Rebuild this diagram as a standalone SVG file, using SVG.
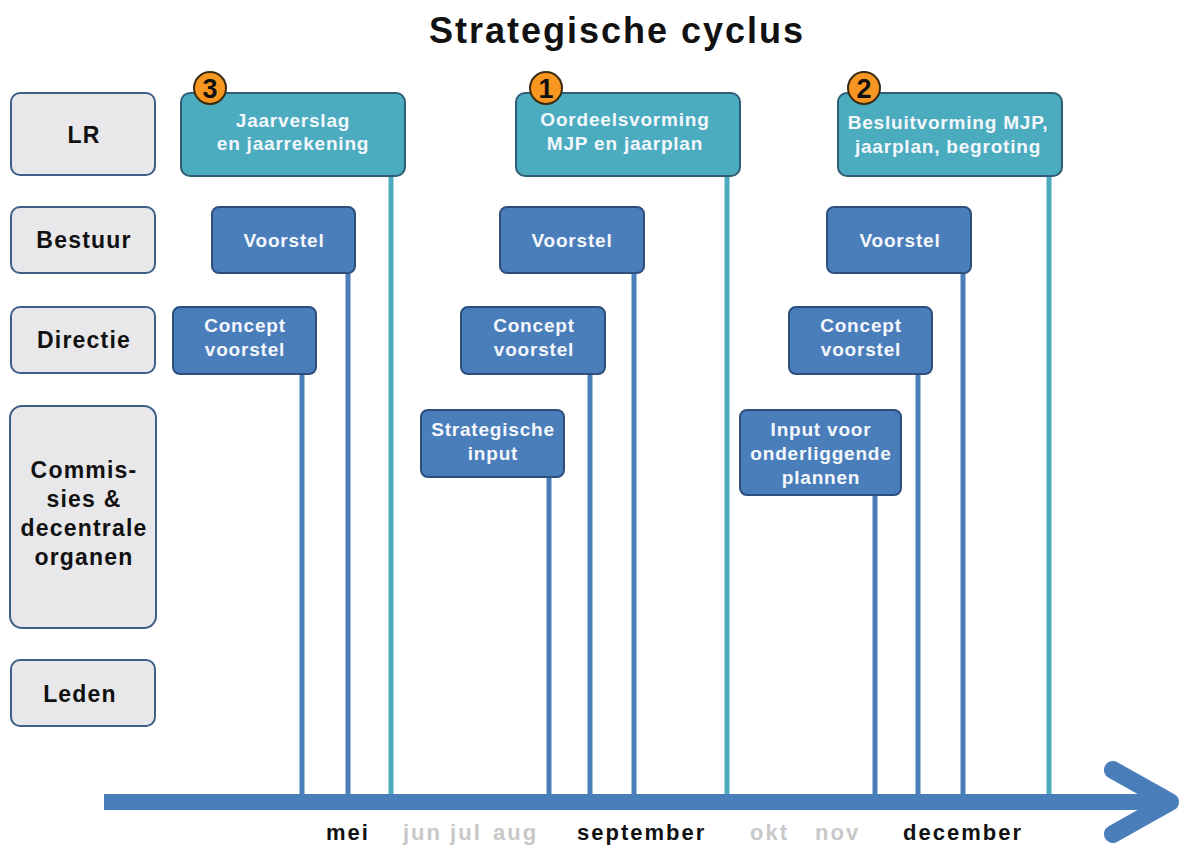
<svg xmlns="http://www.w3.org/2000/svg" width="1182" height="845" viewBox="0 0 1182 845">
<style>
.lane{fill:#e8e7ea;stroke:#3f5f87;stroke-width:2}
.lt{font-family:"Liberation Sans",Arial,sans-serif;font-weight:bold;font-size:23px;fill:#111;text-anchor:middle;letter-spacing:1.2px}
.lr{fill:#4bacc0;stroke:#2e5d74;stroke-width:2}
.bl{fill:#4a7ebb;stroke:#2c4f7c;stroke-width:2}
.wt{font-family:"Liberation Sans",Arial,sans-serif;font-weight:bold;font-size:19px;fill:#f4f7fb;text-anchor:middle;letter-spacing:0.8px}
.num{fill:#f79621;stroke:#3a2a10;stroke-width:2}
.nt{font-family:"Liberation Sans",Arial,sans-serif;font-weight:bold;font-size:27px;fill:#111;text-anchor:middle}
.vb{stroke:#4a7ebb;stroke-width:5}
.vt{stroke:#4bacc0;stroke-width:5}
.mb{font-family:"Liberation Sans",Arial,sans-serif;font-weight:bold;font-size:22px;fill:#111;letter-spacing:2px}
.mg{font-family:"Liberation Sans",Arial,sans-serif;font-weight:bold;font-size:22px;fill:#c8c8c8;letter-spacing:2px}
</style>
<rect width="1182" height="845" fill="#ffffff"/>
<text x="617" y="43" font-family="Liberation Sans, Arial, sans-serif" font-weight="bold" font-size="36" letter-spacing="2" fill="#111" text-anchor="middle">Strategische cyclus</text>

<g id="lane-LR"><rect class="lane" x="11" y="93" width="144" height="82" rx="9"/><text class="lt" x="84" y="143">LR</text></g>
<g id="lane-Bestuur"><rect class="lane" x="11" y="207" width="144" height="66" rx="9"/><text class="lt" x="84" y="248">Bestuur</text></g>
<g id="lane-Directie"><rect class="lane" x="11" y="307" width="144" height="66" rx="9"/><text class="lt" x="84" y="348">Directie</text></g>
<g id="lane-Commissies"><rect class="lane" x="10" y="406" width="146" height="222" rx="12"/>
<text class="lt" x="84" y="478">Commis-</text><text class="lt" x="84" y="507">sies &amp;</text><text class="lt" x="84" y="536">decentrale</text><text class="lt" x="84" y="565">organen</text></g>
<g id="lane-Leden"><rect class="lane" x="11" y="660" width="144" height="66" rx="9"/><text class="lt" x="80" y="702">Leden</text></g>

<g id="connectors">
<line class="vb" x1="302" y1="373" x2="302" y2="796"/>
<line class="vb" x1="348" y1="273" x2="348" y2="796"/>
<line class="vt" x1="391" y1="176" x2="391" y2="796"/>
<line class="vb" x1="549" y1="477" x2="549" y2="796"/>
<line class="vb" x1="590" y1="373" x2="590" y2="796"/>
<line class="vb" x1="634" y1="273" x2="634" y2="796"/>
<line class="vt" x1="727" y1="176" x2="727" y2="796"/>
<line class="vb" x1="875" y1="495" x2="875" y2="796"/>
<line class="vb" x1="918" y1="373" x2="918" y2="796"/>
<line class="vb" x1="963" y1="273" x2="963" y2="796"/>
<line class="vt" x1="1049" y1="176" x2="1049" y2="796"/>
<g id="timeline" stroke="#4a7ebb" fill="none" stroke-linecap="round" stroke-linejoin="round">
<line x1="104" y1="802" x2="1165" y2="802" stroke-width="16" stroke-linecap="butt"/>
<polyline points="1113,770 1170,802 1113,834" stroke-width="18"/>
</g>
</g>

<g id="lr3"><rect class="lr" x="181" y="93" width="224" height="83" rx="9"/><text class="wt" x="293" y="127">Jaarverslag</text><text class="wt" x="293" y="150">en jaarrekening</text>
<circle class="num" cx="210" cy="88" r="16"/><text class="nt" x="210" y="98">3</text></g>
<g id="lr1"><rect class="lr" x="516" y="93" width="224" height="83" rx="9"/><text class="wt" x="625" y="126">Oordeelsvorming</text><text class="wt" x="625" y="150">MJP en jaarplan</text>
<circle class="num" cx="546" cy="88" r="16"/><text class="nt" x="546" y="98">1</text></g>
<g id="lr2"><rect class="lr" x="838" y="93" width="224" height="83" rx="9"/><text class="wt" x="948" y="129">Besluitvorming MJP,</text><text class="wt" x="948" y="153">jaarplan, begroting</text>
<circle class="num" cx="864" cy="88" r="16"/><text class="nt" x="864" y="98">2</text></g>

<g id="bestuur1"><rect class="bl" x="212" y="207" width="143" height="66" rx="7"/><text class="wt" x="284" y="247">Voorstel</text></g>
<g id="bestuur2"><rect class="bl" x="500" y="207" width="144" height="66" rx="7"/><text class="wt" x="572" y="247">Voorstel</text></g>
<g id="bestuur3"><rect class="bl" x="827" y="207" width="144" height="66" rx="7"/><text class="wt" x="900" y="247">Voorstel</text></g>

<g id="directie1"><rect class="bl" x="173" y="307" width="143" height="67" rx="7"/><text class="wt" x="245" y="332">Concept</text><text class="wt" x="245" y="356">voorstel</text></g>
<g id="directie2"><rect class="bl" x="461" y="307" width="144" height="67" rx="7"/><text class="wt" x="534" y="332">Concept</text><text class="wt" x="534" y="356">voorstel</text></g>
<g id="directie3"><rect class="bl" x="789" y="307" width="143" height="67" rx="7"/><text class="wt" x="861" y="332">Concept</text><text class="wt" x="861" y="356">voorstel</text></g>

<g id="comm1"><rect class="bl" x="421" y="410" width="143" height="67" rx="7"/><text class="wt" x="493" y="436">Strategische</text><text class="wt" x="493" y="460">input</text></g>
<g id="comm2"><rect class="bl" x="740" y="410" width="161" height="85" rx="7"/><text class="wt" x="821" y="436">Input voor</text><text class="wt" x="821" y="460">onderliggende</text><text class="wt" x="821" y="484">plannen</text></g>

<g id="months">
<text class="mb" x="326" y="840">mei</text>
<text class="mg" x="403" y="840">jun jul</text>
<text class="mg" x="493" y="840">aug</text>
<text class="mb" x="577" y="840">september</text>
<text class="mg" x="750" y="840">okt</text>
<text class="mg" x="815" y="840">nov</text>
<text class="mb" x="903" y="840">december</text>
</g>
</svg>
